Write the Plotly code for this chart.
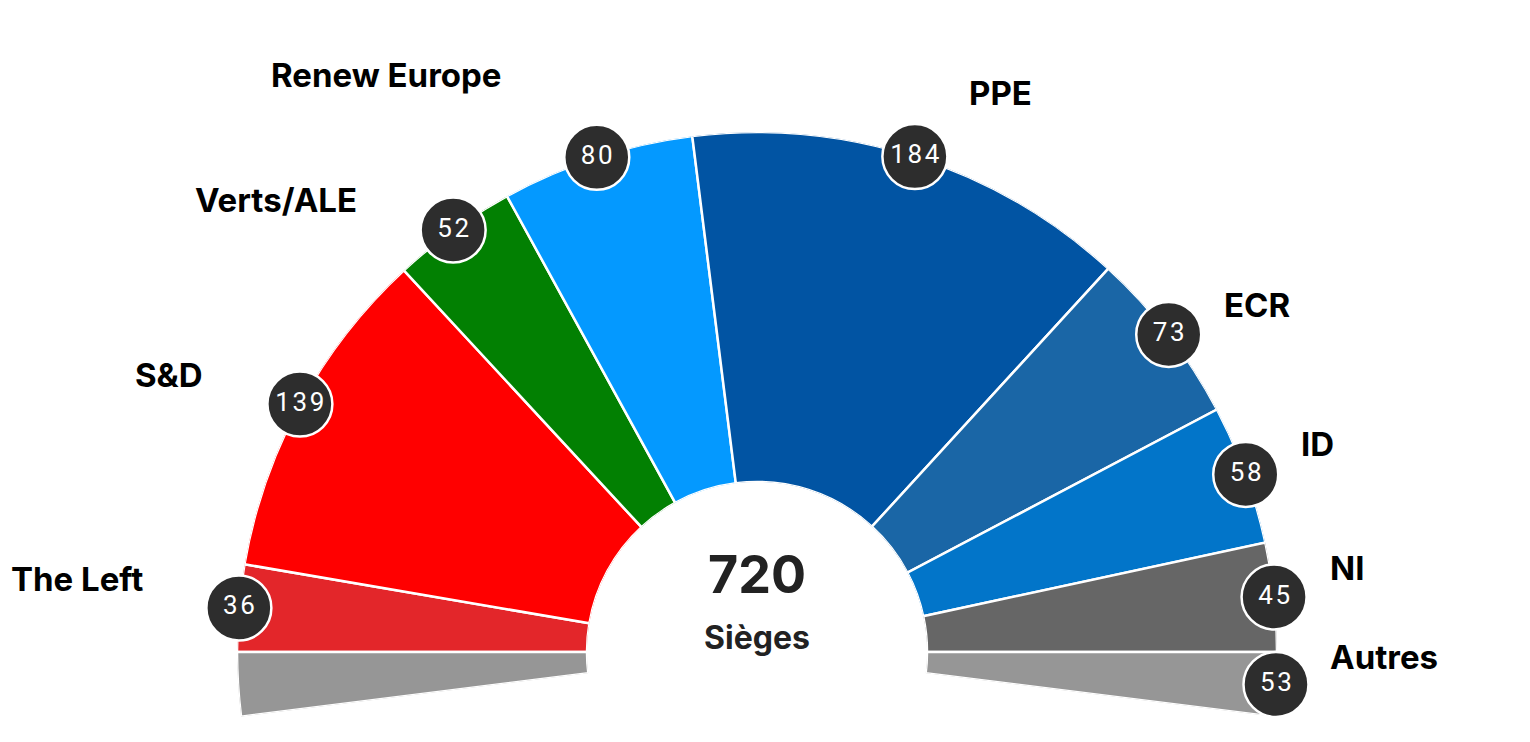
import math
import plotly.graph_objects as go

# ---------------- data ----------------
parties = ["The Left", "S&D", "Verts/ALE", "Renew Europe", "PPE", "ECR", "ID", "NI"]
seats = [36, 139, 52, 80, 184, 73, 58, 45]
colors = ["#E3262A", "#FF0000", "#028002", "#0499FF", "#0154A3", "#1A66A6", "#0275C9", "#666666"]
others_label = "Autres"
others_seats = 53
others_color = "#969696"
total_label = "720"
total_caption = "Sièges"

# ---------------- geometry ----------------
W, H = 1530, 742
cx, cy, R, r_in = 757, 652, 520, 170

semi = sum(seats)
deg = 180.0 / semi
half_oth = others_seats / 2.0
ext = half_oth * deg

thetas, widths = [], []
cum = 0
for s in seats:
    thetas.append(180 - (cum + s / 2.0) * deg)
    widths.append(s * deg)
    cum += s

fig = go.Figure()

# main segments
fig.add_trace(go.Barpolar(
    r=[1] * len(seats), theta=thetas, width=widths, base=0,
    marker=dict(color=colors, line=dict(color="white", width=2.5)),
    hoverinfo="skip", showlegend=False,
))
# others split in two halves (below the horizontal on each side)
fig.add_trace(go.Barpolar(
    r=[1, 1], theta=[180 + ext / 2, -ext / 2], width=[ext, ext], base=0,
    marker=dict(color=others_color, line=dict(color="white", width=2.5)),
    hoverinfo="skip", showlegend=False,
))

# seat-count badges
badge_theta = thetas + [-ext / 2]
badge_text = ["\u200a".join(str(v)) for v in seats + [others_seats]]
fig.add_trace(go.Scatterpolar(
    r=[1] * len(badge_theta), theta=badge_theta, mode="markers+text",
    text=badge_text, textposition="middle center",
    textfont=dict(family="Roboto", size=26, color="white"),
    marker=dict(size=65, color="#2D2D2D", line=dict(color="white", width=2.5)),
    cliponaxis=False, hoverinfo="skip", showlegend=False,
))

y_top = cy - R
y_bot = cy + R * math.sin(math.radians(ext))
fig.update_layout(
    width=W, height=H, margin=dict(l=0, r=0, t=0, b=0),
    paper_bgcolor="white", plot_bgcolor="white",
    polar=dict(
        domain=dict(x=[(cx - R) / W, (cx + R) / W], y=[1 - y_bot / H, 1 - y_top / H]),
        sector=[-ext, 180 + ext], hole=r_in / R, bgcolor="white",
        radialaxis=dict(visible=False, range=[0, 1]),
        angularaxis=dict(visible=False, direction="counterclockwise", rotation=0),
    ),
)

# party labels (anchor pixel positions, layout only)
label_pos = {
    "The Left": (145, 579, "right"),
    "S&D": (205, 375, "right"),
    "Verts/ALE": (359, 200, "right"),
    "Renew Europe": (503, 75, "right"),
    "PPE": (967, 93, "left"),
    "ECR": (1222, 305, "left"),
    "ID": (1299, 444, "left"),
    "NI": (1328, 568, "left"),
    "Autres": (1328, 657, "left"),
}
lab_font = dict(family="Inter", size=33, color="black", weight=700)
for name in parties + [others_label]:
    px, py, anc = label_pos[name]
    fig.add_annotation(text=name, x=px / W, y=1 - py / H, xref="paper", yref="paper",
                       xanchor=anc, yanchor="middle", showarrow=False, font=lab_font)

fig.add_annotation(text=total_label, x=cx / W, y=1 - 574 / H, xref="paper", yref="paper",
                   showarrow=False, xanchor="center", yanchor="middle",
                   font=dict(family="Inter", size=52, color="#222222", weight=700))
fig.add_annotation(text=total_caption, x=cx / W, y=1 - 637 / H, xref="paper", yref="paper",
                   showarrow=False, xanchor="center", yanchor="middle",
                   font=dict(family="Inter", size=32, color="#222222", weight=700))

fig.write_html("out.html")
